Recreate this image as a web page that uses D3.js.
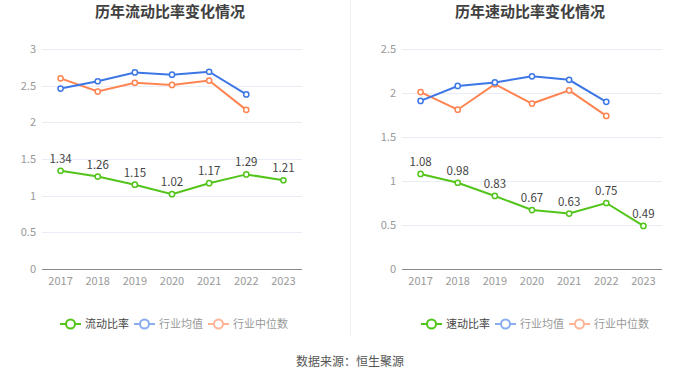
<!DOCTYPE html>
<html><head><meta charset="utf-8">
<script src="https://cdn.jsdelivr.net/npm/d3@7"></script>
<style>body{margin:0;background:#fff;}svg{display:block;font-family:"Noto Sans CJK SC","Noto Sans",sans-serif;}</style>
</head><body>
<svg id="c" width="700" height="378"></svg>
<script>
const years = ["2017","2018","2019","2020","2021","2022","2023"];
const currentRatio = [1.34,1.26,1.15,1.02,1.17,1.29,1.21];
const currentIndAvg = [2.46,2.56,2.68,2.65,2.69,2.38];
const currentIndMed = [2.60,2.42,2.54,2.51,2.57,2.17];
const quickRatio = [1.08,0.98,0.83,0.67,0.63,0.75,0.49];
const quickIndAvg = [1.91,2.08,2.12,2.19,2.15,1.90];
const quickIndMed = [2.01,1.81,2.10,1.88,2.03,1.74];
const leftTicks = [0,0.5,1,1.5,2,2.5,3];
const rightTicks = [0,0.5,1,1.5,2,2.5];

const svg = d3.select("#c");
const colors = {main:"#52c41a", avg:"#3d77e6", med:"#ff8452"};

svg.append("line").attr("x1",350.5).attr("x2",350.5).attr("y1",0).attr("y2",336).attr("stroke","#f0f0f0");

function chart(opt){
  const g = svg.append("g");
  const x = d3.scaleBand().domain(years).range([opt.x0, opt.x1]);
  const y = d3.scaleLinear().domain([0, opt.max]).range([269, 49]);
  g.append("text").attr("x",(opt.x0+opt.x1)/2 - 2).attr("y",17).attr("text-anchor","middle")
    .attr("font-size",15).attr("font-weight","bold").attr("fill","#404040").text(opt.title);
  g.selectAll(".grid").data(opt.ticks.filter(t=>t>0)).enter().append("line")
    .attr("x1",opt.x0).attr("x2",opt.x1).attr("y1",d=>Math.round(y(d))+0.5).attr("y2",d=>Math.round(y(d))+0.5)
    .attr("stroke","#e9edf5");
  g.selectAll(".yl").data(opt.ticks).enter().append("text")
    .attr("x",opt.x0-6).attr("y",d=>y(d)+4).attr("text-anchor","end").attr("font-size",11).attr("fill","#999").text(d=>d);
  g.append("line").attr("x1",opt.x0).attr("x2",opt.x1).attr("y1",269.5).attr("y2",269.5).attr("stroke","#8c8c8c");
  g.selectAll(".xl").data(years).enter().append("text")
    .attr("x",d=>x(d)+x.bandwidth()/2).attr("y",285).attr("text-anchor","middle").attr("font-size",11).attr("fill","#999").text(d=>d);
  const cx = (d,i)=>x(years[i])+x.bandwidth()/2;
  const line = d3.line().x(cx).y(d=>y(d));
  [[opt.med,colors.med],[opt.avg,colors.avg],[opt.main,colors.main]].forEach(([data,c])=>{
    g.append("path").attr("d",line(data)).attr("fill","none").attr("stroke",c).attr("stroke-width",2);
    g.selectAll(null).data(data).enter().append("circle").attr("cx",cx).attr("cy",d=>y(d)).attr("r",2.6)
      .attr("fill","#fff").attr("stroke",c).attr("stroke-width",1.5);
  });
  g.selectAll(".lab").data(opt.main).enter().append("text")
    .attr("x",cx).attr("y",d=>y(d)-8).attr("text-anchor","middle").attr("font-size",11.5).attr("fill","#444").text(d=>d.toFixed(2));
  // legend
  const items = [[opt.mainName,colors.main,"#444",1],["行业均值",colors.avg,"#999",0.6],["行业中位数",colors.med,"#999",0.6]];
  let lx = opt.legendX;
  items.forEach(([name,c,tc,op])=>{
    const lg = g.append("g").attr("opacity",op);
    lg.append("line").attr("x1",lx).attr("x2",lx+21).attr("y1",324).attr("y2",324).attr("stroke",c).attr("stroke-width",2);
    lg.append("circle").attr("cx",lx+10.5).attr("cy",324).attr("r",4.5).attr("fill","#fff").attr("stroke",c).attr("stroke-width",2);
    g.append("text").attr("x",lx+25).attr("y",328).attr("font-size",11).attr("fill",tc).text(name);
    lx += 25 + name.length*11 + 5;
  });
}
chart({x0:42,x1:302,max:3,ticks:leftTicks,title:"历年流动比率变化情况",main:currentRatio,avg:currentIndAvg,med:currentIndMed,mainName:"流动比率",legendX:60});
chart({x0:402,x1:662,max:2.5,ticks:rightTicks,title:"历年速动比率变化情况",main:quickRatio,avg:quickIndAvg,med:quickIndMed,mainName:"速动比率",legendX:421});
svg.append("text").attr("x",350).attr("y",366).attr("text-anchor","middle").attr("font-size",12).attr("fill","#555").text("数据来源：恒生聚源");
</script>
</body></html>
